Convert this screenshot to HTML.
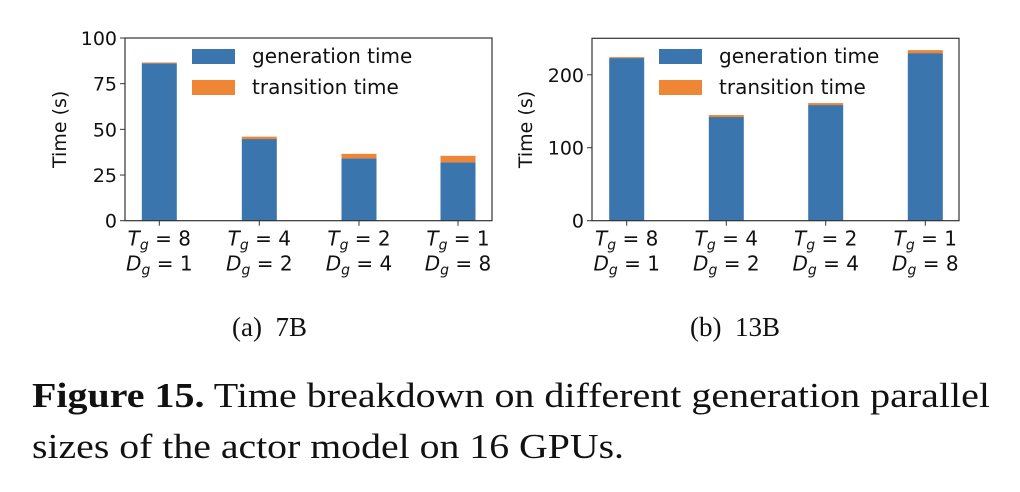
<!DOCTYPE html>
<html><head><meta charset="utf-8"><style>
html,body{margin:0;padding:0;background:#fff;width:1020px;height:492px;overflow:hidden}
svg text{font-family:"DejaVu Sans","Liberation Sans",sans-serif;fill:#111}
.serif{font-family:"Liberation Serif","DejaVu Serif",serif !important}
</style></head><body>
<svg id="fig" width="1020" height="492" viewBox="0 0 1020 492" xmlns="http://www.w3.org/2000/svg">
<g id="chartA"></g>
<g id="chartB"></g>
<text class="serif" x="232" y="336" font-size="27" xml:space="preserve" style="white-space:pre">(a)  7B</text>
<text class="serif" x="690" y="336" font-size="27" xml:space="preserve" style="white-space:pre">(b)  13B</text>
<text class="serif" x="32" y="407" font-size="35" textLength="958" lengthAdjust="spacingAndGlyphs"><tspan font-weight="bold">Figure 15.</tspan> Time breakdown on different generation parallel</text>
<text class="serif" x="32" y="458" font-size="35" textLength="592" lengthAdjust="spacingAndGlyphs">sizes of the actor model on 16 GPUs.</text>
</svg>
<script>
const tgLabels = ["8","4","2","1"];
const dgLabels = ["1","2","4","8"];
const genA = [86.1, 44.7, 34.1, 31.9];
const transA = [0.5, 1.3, 2.5, 3.6];
const ticksA = [0, 25, 50, 75, 100];
const genB = [222.9, 142.1, 158.5, 229.7];
const transB = [1.3, 2.7, 2.7, 4.1];
const ticksB = [0, 100, 200];

const NS = "http://www.w3.org/2000/svg";
function mk(parent, tag, attrs){ const e=document.createElementNS(NS,tag); for(const k in attrs) e.setAttribute(k,attrs[k]); parent.appendChild(e); return e; }

function draw(g, cfg, gen, trans, ticks){
  const {L,R,T,B,max,centers,legX,titleX} = cfg;
  const y = v => B - (v/max)*(B-T);
  const bw = 35;
  gen.forEach((v,i)=>{
    const cx = centers[i];
    const r = mk(g,'rect',{x:cx-bw/2,y:y(v),width:bw,height:B-y(v),fill:'#3a75ae'});
    
    
    const r2 = mk(g,'rect',{x:cx-bw/2,y:y(v+trans[i]),width:bw,height:y(v)-y(v+trans[i]),fill:'#ef8636'});
    
    
    const t = mk(g,'line',{x1:cx,x2:cx,y1:B,y2:B+5,stroke:'#333','stroke-width':1});
    
    
    const l1 = mk(g,'text',{x:cx,y:B+25,'font-size':20,'text-anchor':'middle'});
    l1.innerHTML = '<tspan font-style="italic">T</tspan><tspan font-style="italic" font-size="14" dy="4">g</tspan><tspan dy="-4"> = '+tgLabels[i]+'</tspan>';
    
    
    const l2 = mk(g,'text',{x:cx,y:B+50,'font-size':20,'text-anchor':'middle'});
    l2.innerHTML = '<tspan font-style="italic">D</tspan><tspan font-style="italic" font-size="14" dy="4">g</tspan><tspan dy="-4"> = '+dgLabels[i]+'</tspan>';
    
    
  });
  const fr = mk(g,'rect',{x:L,y:T,width:R-L,height:B-T,fill:'none',stroke:'#333','stroke-width':1.2});
  
  
  ticks.forEach(v=>{
    const t = mk(g,'line',{x1:L-5,x2:L,y1:y(v),y2:y(v),stroke:'#333','stroke-width':1});
    
    
    const tx = mk(g,'text',{x:L-8,y:y(v)+7,'font-size':19,'text-anchor':'end'});
    tx.textContent = v;
    
    
  });
  const yt = mk(g,'text',{x:0,y:0,'font-size':19,'text-anchor':'middle',transform:`translate(${titleX},${(T+B)/2}) rotate(-90)`});
  yt.textContent = 'Time (s)';
  
  
  const p1 = mk(g,'rect',{x:legX,y:49,width:43,height:15,fill:'#3a75ae'});
  
  
  const t1 = mk(g,'text',{x:legX+60,y:63,'font-size':20});
  t1.textContent = 'generation time';
  
  
  const p2 = mk(g,'rect',{x:legX,y:80,width:43,height:15,fill:'#ef8636'});
  
  
  const t2 = mk(g,'text',{x:legX+60,y:94,'font-size':20});
  t2.textContent = 'transition time';
  
  
}
draw(document.getElementById('chartA'),{L:125,R:492,T:38,B:220.7,max:100,centers:[159.3,259.3,359,458],legX:192,titleX:66},genA,transA,ticksA);
draw(document.getElementById('chartB'),{L:592,R:959,T:38.3,B:220.7,max:250,centers:[626.7,726.3,825.7,925.3],legX:659,titleX:532},genB,transB,ticksB);
</script>
</body></html>
